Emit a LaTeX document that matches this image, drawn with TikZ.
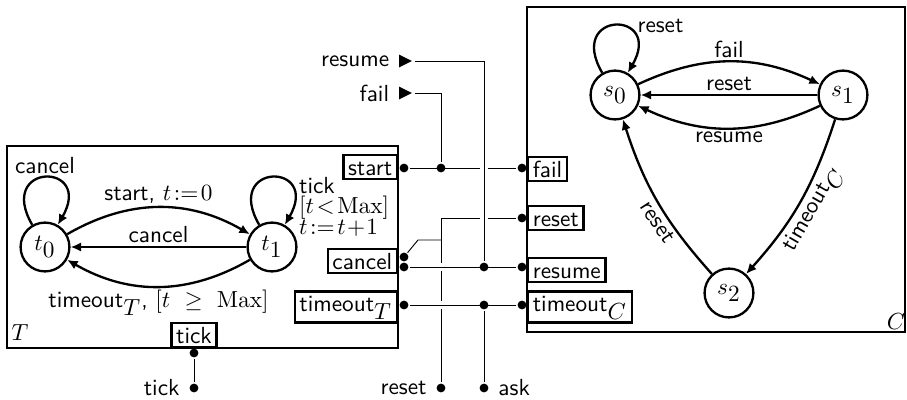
\documentclass[tikz,border=0pt]{standalone}
\usepackage{amsmath}
\usepackage{amssymb}
\usetikzlibrary{arrows.meta,shapes.geometric}
\tikzset{
    state/.style={circle, draw, minimum size=21pt, inner sep=0pt},
    port/.style={rectangle, draw, fill=white, inner xsep=2pt, inner ysep=1.5pt,
    	text height=7pt},
    dot/.style={circle, fill, inner sep=0pt, minimum size=3.8pt},
    sigin/.style={isosceles triangle, isosceles triangle stretches, fill,
    	inner sep=0pt, minimum width=5.5pt, minimum height=5.5pt},
    el/.style={inner sep=1.2pt}
}
\tikzset{
    every loop/.style={min distance=11mm, in=60, out=120, looseness=1}
}
\tikzset{
    over/.style={preaction={draw, white, line width=3.8pt}}
}
\pgfdeclarelayer{background}
\pgfsetlayers{background,main}

\begin{document}
\begin{tikzpicture}[x=0.43pt, y=0.43pt, line width=1pt, font=\sffamily,
    >={Latex[length=4.5pt, width=4pt]}]
  \useasboundingbox (0,0) rectangle (907,-399);

  % the two components
  \draw (7,-146) rectangle (398,-348);
  \draw (527,-7) rectangle (905,-332);
  \node (nameT) at (20,-333) {$T$};
  \node (nameC) at (896,-322) {$C$};

  % timer
  \node[state] (t0) at (45,-247) {$t_{\textstyle 0}$};
  \node[state] (t1) at (272,-247) {$t_{\textstyle 1}$};

  \draw[->] (t0) edge [loop] node[el, above] {cancel} ()
            (t0) edge [bend left=30] node[el, above] {start, $t\!:=\!0$} (t1)
            (t1) edge node[el, above] {cancel} (t0)
            (t1) edge [bend left=30] node[el, below]
                 {timeout$_{\textstyle T}$, $[t\ \geq\ \mathrm{Max}]$} (t0)
            (t1) edge [loop] node[el, anchor=north west, pos=.5, xshift=10pt,
                 yshift=2pt, align=left]
                 {tick\\[-3pt]$[t\!<\!\mathrm{Max}]$\\[-3pt]$t\!:=\!t\!+\!1$} ();

  % controller
  \node[state] (s0) at (615,-95) {$s_{\textstyle 0}$};
  \node[state] (s1) at (843,-95) {$s_{\textstyle 1}$};
  \node[state] (s2) at (729,-293) {$s_{\textstyle 2}$};

  \draw[->] (s0) edge [loop] node[el, right, pos=.5, xshift=8pt] {reset} ()
            (s0) edge [bend left=25] node[el, above] {fail} (s1)
            (s1) edge node[el, above] {reset} (s0)
            (s1) edge [bend left=25] node[el, below] {resume} (s0)
            (s1) edge [bend left=12] node[el, below, sloped, pos=.5]
                 {timeout$_{\textstyle C}$} (s2)
            (s2) edge [bend left=12] node[el, below, sloped, pos=.4] {reset} (s0);

  % ports
  \node[port, anchor=east] (pstart) at (398,-167) {start};
  \node[port, anchor=east] (pcancel) at (398,-261) {cancel};
  \node[port, anchor=east] (ptimeout) at (398,-307) {timeout$_{\textstyle T}$};
  \node[port, anchor=south] (ptick) at (194,-348) {tick};
  \node[port, anchor=west] (pfail) at (527,-169) {fail};
  \node[port, anchor=west] (preset) at (527,-218) {reset};
  \node[port, anchor=west] (presume) at (527,-270) {resume};
  \node[port, anchor=west] (ptimeoutc) at (527,-307) {timeout$_{\textstyle C}$};

  \node[dot] (dstart) at (404,-168) {};
  \node[dot] (dcancela) at (404,-257) {};
  \node[dot] (dcancelb) at (404,-267) {};
  \node[dot] (dtimeout) at (404,-305) {};
  \node[dot] (dtick) at (194,-353) {};
  \node[dot] (dfail) at (522,-168) {};
  \node[dot] (dreset) at (522,-218) {};
  \node[dot] (dresume) at (522,-267) {};
  \node[dot] (dtimeoutc) at (522,-305) {};

  % junctions and outside signals
  \node[dot] (jfail) at (441,-168) {};
  \node[dot] (jresume) at (484,-267) {};
  \node[dot] (jask) at (484,-305) {};
  \node[sigin, anchor=west, label=left:resume] (inresume) at (398,-61) {};
  \node[sigin, anchor=west, label=left:fail] (infail) at (398,-93) {};
  \node[dot, label=left:tick] (intick) at (194,-388) {};
  \node[dot, label=left:reset] (inreset) at (441,-388) {};
  \node[dot, label=right:ask] (inask) at (484,-388) {};
  \coordinate (split) at (441,-240);
  \coordinate (kink) at (418,-240);

  \begin{pgfonlayer}{background}
    \draw (dstart) -- (dfail);
    \draw (infail) -| (jfail);
    \draw (inreset) |- (dreset);
    \draw (split) -- (kink) -- (dcancela);
    \draw (intick) -- (dtick);
    % these pass over the others
    \draw[over] (inresume) -| (jresume);
    \draw[over] (dcancelb) -- (dresume);
    \draw[over] (dtimeout) -- (dtimeoutc);
    \draw (inask) -- (jask);
  \end{pgfonlayer}
\end{tikzpicture}
\end{document}
